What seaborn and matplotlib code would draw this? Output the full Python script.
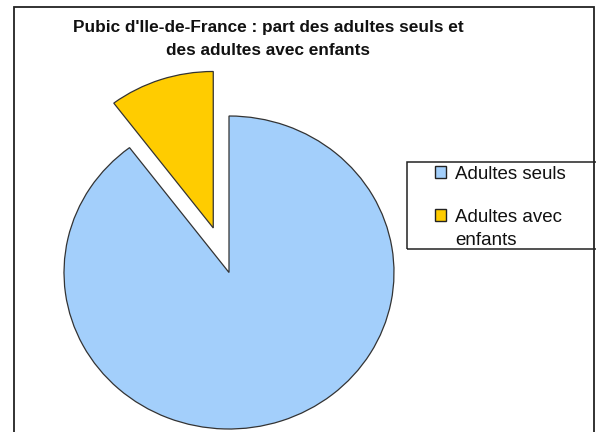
import matplotlib
matplotlib.use("Agg")
import matplotlib.pyplot as plt
from matplotlib.patches import Rectangle
import seaborn as sns

# data
labels = ["Adultes seuls", "Adultes avec\nenfants"]
shares = [89.7, 10.3]
colors = ["#A3CFFB", "#FFCC00"]
explode = [0, 0.3]

sns.set_theme(style="white")
plt.rcParams["font.family"] = ["Liberation Sans", "DejaVu Sans"]

W, H = 596, 432
fig = plt.figure(figsize=(W / 100, H / 100), dpi=100)
fig.patch.set_facecolor("white")

# pie centre and radii in pixels (the original is slightly stretched)
cx, cy, rx, ry = 229, H - 272.5, 165, 156.5
xlim = (-1.2, 1.2)
ylim = (-1.05, 1.4)
ax = fig.add_axes([(cx + xlim[0] * rx) / W, (cy + ylim[0] * ry) / H,
                   (xlim[1] - xlim[0]) * rx / W, (ylim[1] - ylim[0]) * ry / H])

wedges, _ = ax.pie(shares, colors=colors, explode=explode, startangle=90,
                   counterclock=False,
                   wedgeprops=dict(edgecolor="#333333", linewidth=0.9))
ax.set_aspect("auto")
ax.set_xlim(*xlim)
ax.set_ylim(*ylim)
ax.axis("off")

# title, two centred bold lines
fig.text(268 / W, (H - 32.4) / H, "Pubic d'Ile-de-France : part des adultes seuls et",
         ha="center", va="baseline", fontsize=12.4, fontweight="bold", color="#111111")
fig.text(268 / W, (H - 55) / H, "des adultes avec enfants",
         ha="center", va="baseline", fontsize=12.4, fontweight="bold", color="#111111")

# outer chart frame
fig.patches.append(Rectangle((14 / W, -0.05), (594 - 14) / W, (H - 7) / H + 0.05,
                             transform=fig.transFigure, fill=False,
                             edgecolor="#222222", linewidth=1.3))
# legend box
fig.patches.append(Rectangle((407 / W, (H - 249) / H), (620 - 407) / W, (249 - 162) / H,
                             transform=fig.transFigure, fill=False,
                             edgecolor="#222222", linewidth=1.1))

# legend: first line of each label next to the swatch, wrapped rest below
first_lines = [lab.split("\n")[0] for lab in labels]
leg = fig.legend(wedges, first_lines, loc="upper left",
                 bbox_to_anchor=(435 / W, (H - 166) / H),
                 frameon=False, fontsize=13.5, handlelength=0.6, handleheight=0.6,
                 handletextpad=0.48, labelspacing=1.36, borderpad=0, borderaxespad=0)
for t in leg.get_texts():
    t.set_color("#111111")
for h in leg.legend_handles:
    h.set_edgecolor("#222222")
    h.set_linewidth(1.0)
for lab in labels:
    rest = lab.split("\n")[1:]
    for k, line in enumerate(rest):
        fig.text(455 / W, (H - 245 - 22 * k) / H, line, ha="left", va="baseline",
                 fontsize=13.5, color="#111111")

fig.savefig("out.png", dpi=100)
